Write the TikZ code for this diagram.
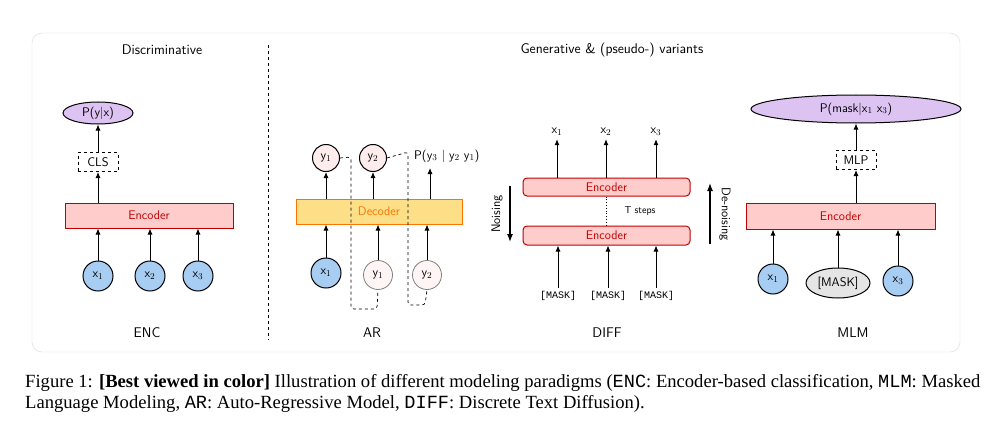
\documentclass[tikz,border=0pt]{standalone}
\usepackage{fontspec}
\setmainfont{Liberation Serif}
\setmonofont{Liberation Mono}
\usetikzlibrary{shapes.geometric,arrows.meta}
\definecolor{bluef}{HTML}{A8CDF2}
\definecolor{purpf}{HTML}{DDC3F2}
\begin{document}
\begin{tikzpicture}[x=1pt,y=-1pt,
  every node/.style={font=\fontsize{12.5}{14}\selectfont\sffamily},
  arr/.style={-{Latex[length=6pt,width=5pt]},line width=0.9pt},
  enc/.style={draw=red!75!black,fill=red!20,line width=1pt,text=red!75!black,inner sep=0pt},
  blue/.style={circle,draw=black,fill=bluef,line width=1pt,minimum size=30pt,inner sep=0pt},
  pinkc/.style={circle,draw=black,fill=pink!30,line width=1pt,minimum size=27pt,inner sep=0pt},
  pale/.style={circle,draw=gray,fill=pink!15,line width=0.8pt,minimum size=29pt,inner sep=0pt},
  purp/.style={ellipse,draw=black,fill=purpf,line width=1pt,inner sep=0pt},
  dbox/.style={draw,dashed,line width=1pt,minimum width=40pt,minimum height=19pt,inner sep=0pt},
  lbl/.style={font=\fontsize{14}{16}\selectfont\sffamily}]
\useasboundingbox (0,0) rectangle (1008,441);
\node[draw=gray!30,rounded corners=10pt,minimum width=928pt,minimum height=319pt] (frame) at (496,192.5) {};
\node[lbl] (t1) at (162,50) {Discriminative};
\node[lbl] (t2) at (612,50) {Generative \& (pseudo-) variants};
\coordinate (d1) at (268,45); \coordinate (d2) at (268,340);
\draw[dashed,line width=0.8pt] (d1) -- (d2);
% ENC
\node[purp,minimum width=70pt,minimum height=22pt] (pyx) at (98,113) {P(y|x)};
\node[dbox] (cls) at (98,162) {CLS};
\node[enc,minimum width=168pt,minimum height=25pt] (e1) at (149,215.5) {Encoder};
\node[blue] (a1) at (98,276) {x$_1$};
\node[blue] (a2) at (150,276) {x$_2$};
\node[blue] (a3) at (198,276) {x$_3$};
\foreach \n in {a1,a2,a3} \draw[arr] (\n) -- (\n |- e1.south);
\draw[arr] (e1.north -| cls) -- (cls);
\draw[arr] (cls) -- (pyx);
\node[lbl] (enclab) at (147,333) {ENC};
% AR
\node[draw=orange!90!red,fill=yellow!50!orange!45,line width=1pt,text=orange!90!red,minimum width=166pt,minimum height=25pt,inner sep=0pt] (dec) at (379,211.5) {Decoder};
\node[pinkc] (ty1) at (326,158) {y$_1$};
\node[pinkc] (ty2) at (373,158) {y$_2$};
\node[anchor=west,inner sep=0pt] (py) at (414,156) {P(y$_3$ | y$_2$ y$_1$)};
\node[blue] (bx1) at (326,273) {x$_1$};
\node[pale] (by1) at (378,275) {y$_1$};
\node[pale] (by2) at (427,275) {y$_2$};
\draw[arr] (bx1) -- (bx1 |- dec.south);
\draw[arr] (by1) -- (by1 |- dec.south);
\draw[arr] (by2) -- (by2 |- dec.south);
\draw[arr] (dec.north -| ty1) -- (ty1);
\draw[arr] (dec.north -| ty2) -- (ty2);
\coordinate (p3) at (430,168);
\draw[arr] (dec.north -| p3) -- (p3);
\draw[dashed,line width=0.7pt,rounded corners=3pt] (ty1.east) -- (351,157) -- (351,309) -- (377,309) -- (by1.south);
\draw[dashed,line width=0.7pt,rounded corners=3pt] (ty2.east) -- (408,152) -- (408,305) -- (425,305) -- (by2.south);
\node[lbl] (arlab) at (372,333) {AR};
% DIFF
\node[enc,rounded corners=4pt,minimum width=167pt,minimum height=18pt] (de1) at (606.5,187) {Encoder};
\node[enc,rounded corners=4pt,minimum width=167pt,minimum height=19pt] (de2) at (606.5,235.5) {Encoder};
\node (ox1) at (557,132) {x$_1$};
\node (ox2) at (606,132) {x$_2$};
\node (ox3) at (656,132) {x$_3$};
\foreach \n in {ox1,ox2,ox3} \draw[arr] (de1.north -| \n) -- (\n);
\draw[dotted,line width=0.8pt] (de1.south) -- (de2.north);
\node[font=\fontsize{10}{12}\selectfont\sffamily] (ts) at (640,211) {T steps};
\node[font=\fontsize{10}{12}\selectfont\ttfamily] (m1) at (558,296) {[MASK]};
\node[font=\fontsize{10}{12}\selectfont\ttfamily] (m2) at (608,296) {[MASK]};
\node[font=\fontsize{10}{12}\selectfont\ttfamily] (m3) at (656,296) {[MASK]};
\foreach \n in {m1,m2,m3} \draw[arr] (\n) -- (\n |- de2.south);
\coordinate (n1) at (510,186); \coordinate (n2) at (510,242);
\draw[-{Latex[length=8pt,width=6pt]},line width=1.3pt] (n1) -- (n2);
\node[rotate=90] (nl) at (497,214) {Noising};
\coordinate (dn1) at (710,244); \coordinate (dn2) at (710,183);
\draw[-{Latex[length=8pt,width=6pt]},line width=1.3pt] (dn1) -- (dn2);
\node[rotate=-90] (dnl) at (725,214) {De-noising};
\node[lbl] (difflab) at (607,333) {DIFF};
% MLM
\node[purp,minimum width=210pt,minimum height=28pt] (pm) at (856,109) {P(mask|x$_1$ x$_3$)};
\node[dbox] (mlp) at (856,160) {MLP};
\node[enc,minimum width=189pt,minimum height=26pt] (e4) at (840.5,216) {Encoder};
\node[blue] (c1) at (773,279) {x$_1$};
\node[ellipse,draw=black,fill=gray!20,line width=1pt,minimum width=64pt,minimum height=30pt,inner sep=0pt] (cm) at (838,283) {[MASK]};
\node[blue] (c3) at (898,281) {x$_3$};
\foreach \n in {c1,cm,c3} \draw[arr] (\n) -- (\n |- e4.south);
\draw[arr] (e4.north -| mlp) -- (mlp);
\draw[arr] (mlp) -- (pm);
\node[lbl] (mlmlab) at (853,333) {MLM};
% caption
\node[anchor=west,inner sep=0pt,font=\fontsize{18.6}{21}\selectfont\rmfamily] (cap1) at (25,383) {Figure 1: \textbf{[Best viewed in color]} Illustration of different modeling paradigms (\texttt{ENC}: Encoder-based classification, \texttt{MLM}: Masked};
\node[anchor=west,inner sep=0pt,font=\fontsize{18.6}{21}\selectfont\rmfamily] (cap2) at (25,404) {Language Modeling, \texttt{AR}: Auto-Regressive Model, \texttt{DIFF}: Discrete Text Diffusion).};
\end{tikzpicture}
\end{document}
